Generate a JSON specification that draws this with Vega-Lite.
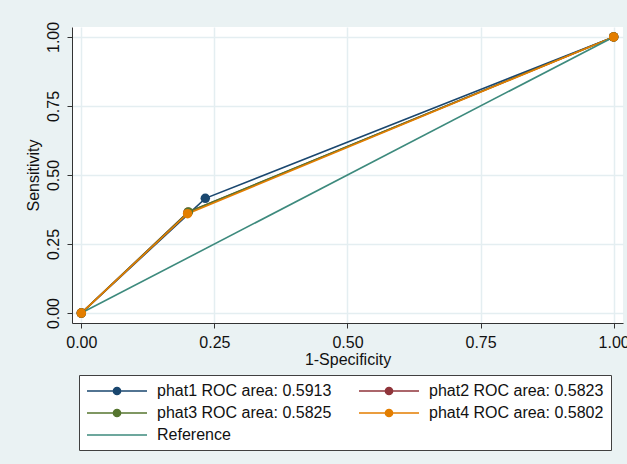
{
  "$schema": "https://vega.github.io/schema/vega-lite/v6.json",
  "width": 551,
  "height": 296,
  "autosize": {"type": "none"},
  "padding": {"left": 72, "top": 27, "right": 4, "bottom": 141},
  "background": "#EAF2F3",
  "config": {
    "view": {"stroke": null, "fill": "white"},
    "font": "Liberation Sans",
    "axis": {
      "domainColor": "#333333",
      "tickColor": "#333333",
      "tickSize": 5,
      "gridColor": "#E4EEF1",
      "gridWidth": 1.5,
      "labelFont": "Liberation Sans",
      "titleFont": "Liberation Sans",
      "labelFontSize": 16,
      "titleFontSize": 16,
      "labelColor": "#111111",
      "titleColor": "#111111",
      "titleFontWeight": "normal",
      "labelFlush": false,
      "labelOverlap": false
    }
  },
  "data": {
    "values": [
      {"series": "phat1 ROC area: 0.5913", "x": 0, "y": 0},
      {"series": "phat1 ROC area: 0.5913", "x": 0.2329, "y": 0.4155},
      {"series": "phat1 ROC area: 0.5913", "x": 1, "y": 1},
      {"series": "phat2 ROC area: 0.5823", "x": 0, "y": 0},
      {"series": "phat2 ROC area: 0.5823", "x": 0.2003, "y": 0.3649},
      {"series": "phat2 ROC area: 0.5823", "x": 1, "y": 1},
      {"series": "phat3 ROC area: 0.5825", "x": 0, "y": 0},
      {"series": "phat3 ROC area: 0.5825", "x": 0.2012, "y": 0.3662},
      {"series": "phat3 ROC area: 0.5825", "x": 1, "y": 1},
      {"series": "phat4 ROC area: 0.5802", "x": 0, "y": 0},
      {"series": "phat4 ROC area: 0.5802", "x": 0.1996, "y": 0.36},
      {"series": "phat4 ROC area: 0.5802", "x": 1, "y": 1},
      {"series": "Reference", "x": 0, "y": 0},
      {"series": "Reference", "x": 1, "y": 1}
    ]
  },
  "layer": [
    {
      "mark": {"type": "line", "strokeWidth": 1.6},
      "encoding": {
        "x": {
          "field": "x", "type": "quantitative",
          "scale": {"domain": [-0.0175, 1.0175], "nice": false, "zero": false},
          "axis": {"values": [0, 0.25, 0.5, 0.75, 1], "format": ".2f", "title": "1-Specificity", "labelPadding": 6, "titlePadding": 1}
        },
        "y": {
          "field": "y", "type": "quantitative",
          "scale": {"domain": [-0.036, 1.036], "nice": false, "zero": false},
          "axis": {"values": [0, 0.25, 0.5, 0.75, 1], "format": ".2f", "title": "Sensitivity", "labelAngle": 270, "labelAlign": "center", "labelBaseline": "alphabetic", "labelPadding": 9, "titlePadding": 4}
        },
        "color": {
          "field": "series", "type": "nominal",
          "scale": {
            "domain": ["phat1 ROC area: 0.5913", "phat2 ROC area: 0.5823", "phat3 ROC area: 0.5825", "phat4 ROC area: 0.5802", "Reference"],
            "range": ["#1A476F", "#90353B", "#55752F", "#E37E00", "#3D8A7D"]
          },
          "legend": {
            "orient": "none",
            "legendX": 7,
            "legendY": 348,
            "title": null,
            "direction": "horizontal",
            "columns": 2,
            "columnPadding": 24,
            "rowPadding": 5,
            "padding": 7,
            "symbolSize": 256,
            "symbolStrokeWidth": 1.5,
            "labelFontSize": 16,
            "labelFont": "Liberation Sans",
            "labelColor": "#111111",
            "labelLimit": 300,
            "labelOffset": 53,
            "fillColor": "white",
            "strokeColor": "#404040",
            "encode": {
              "symbols": {
                "update": {
                  "shape": {"signal": "datum.value === 'Reference' ? 'M-1,0H6.5' : 'M-1,0H6.5M3.2,0A0.45,0.45 0 1,1 2.3,0A0.45,0.45 0 1,1 3.2,0Z'"},
                  "fill": {"signal": "scale('color', datum.value)"},
                  "stroke": {"signal": "scale('color', datum.value)"},
                  "strokeWidth": {"value": 1.5},
                  "opacity": {"value": 1},
                  "fillOpacity": {"value": 1}
                }
              }
            }
          }
        }
      }
    },
    {
      "transform": [{"filter": "datum.series !== 'Reference'"}],
      "mark": {"type": "point", "filled": true, "size": 90, "opacity": 1},
      "encoding": {
        "x": {"field": "x", "type": "quantitative"},
        "y": {"field": "y", "type": "quantitative"},
        "color": {"field": "series", "type": "nominal"}
      }
    }
  ]
}
